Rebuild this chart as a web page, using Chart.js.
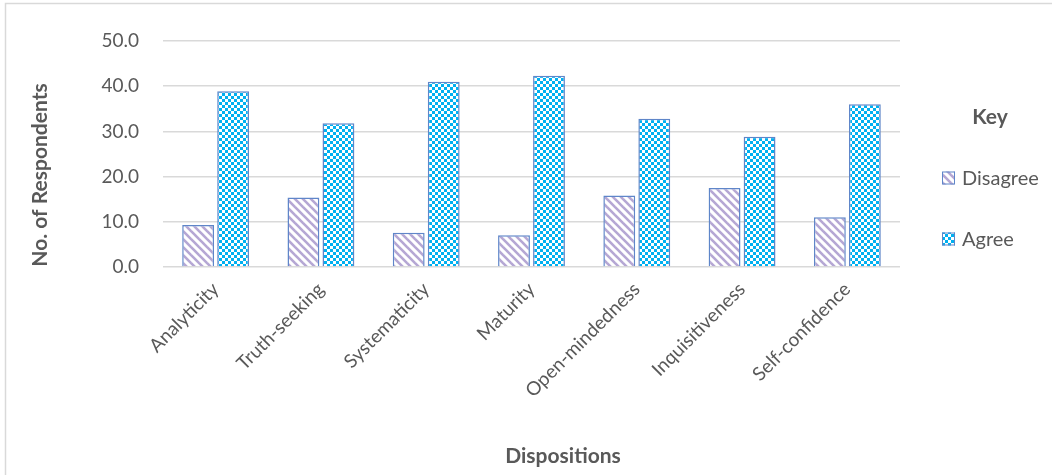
<!DOCTYPE html>
<html>
<head>
<meta charset="utf-8">
<script src="https://cdn.jsdelivr.net/npm/chart.js@4.4.1/dist/chart.umd.min.js"></script>
<style>
  html, body { margin: 0; padding: 0; background: #ffffff; }
  #wrap { position: relative; width: 1052px; height: 475px; }
</style>
</head>
<body>
<div id="wrap"><canvas id="chart"></canvas></div>
<script>
// Critical-thinking dispositions: respondents who disagree / agree
const categories = ['Analyticity', 'Truth-seeking', 'Systematicity', 'Maturity',
                    'Open-mindedness', 'Inquisitiveness', 'Self-confidence'];
const disagree = [9.3, 15.4, 7.6, 7.0, 15.8, 17.5, 11.0];
const agree    = [38.9, 31.8, 41.0, 42.3, 32.8, 28.8, 36.0];
const seriesNames = ['Disagree', 'Agree'];
const yTicks = [0, 10, 20, 30, 40, 50];

const FONT = 'Lato, "Liberation Sans", sans-serif';
const TEXT = '#595959';

// Diagonal light-purple hatching
function stripePattern() {
  const c = document.createElement('canvas');
  c.width = 8; c.height = 8;
  const g = c.getContext('2d');
  g.fillStyle = '#ffffff';
  g.fillRect(0, 0, 8, 8);
  g.strokeStyle = '#b5a7d4';
  g.lineWidth = 2.6;
  for (const off of [-8, 0, 8]) {
    g.beginPath();
    g.moveTo(off - 2, -2);
    g.lineTo(off + 10, 10);
    g.stroke();
  }
  return g.createPattern(c, 'repeat');
}

// Cyan / white checkerboard
function checkerPattern() {
  const c = document.createElement('canvas');
  c.width = 6; c.height = 6;
  const g = c.getContext('2d');
  g.fillStyle = '#00b0f0';
  g.fillRect(0, 0, 6, 6);
  g.fillStyle = '#ffffff';
  g.fillRect(0, 0, 3, 3);
  g.fillRect(3, 3, 3, 3);
  return g.createPattern(c, 'repeat');
}

const BORDER = '#5f86c9';

// White page with a light frame
const framePlugin = {
  id: 'frame',
  beforeDraw(chart) {
    const ctx = chart.ctx;
    ctx.save();
    ctx.fillStyle = '#ffffff';
    ctx.fillRect(0, 0, chart.width, chart.height);
    ctx.strokeStyle = '#d9d9d9';
    ctx.lineWidth = 1.5;
    ctx.strokeRect(5.5, 3.5, chart.width + 10, chart.height + 10);
    ctx.restore();
  }
};

// Axis titles and the "Key" legend on the right
const annotatePlugin = {
  id: 'annotate',
  afterDraw(chart) {
    const ctx = chart.ctx;
    const area = chart.chartArea;
    ctx.save();
    ctx.fillStyle = TEXT;
    ctx.textBaseline = 'middle';

    // y-axis title
    ctx.font = 'bold 21px ' + FONT;
    ctx.save();
    ctx.translate(40, 175);
    ctx.rotate(-Math.PI / 2);
    ctx.textAlign = 'center';
    ctx.fillText('No. of Respondents', 0, 0);
    ctx.restore();

    // x-axis title
    ctx.textAlign = 'center';
    ctx.fillText('Dispositions', 563, 456);

    // legend
    const lx = area.right + 42;
    ctx.fillText('Key', lx + 48, 117);
    ctx.font = '20px ' + FONT;
    ctx.textAlign = 'left';
    chart.data.datasets.forEach((ds, i) => {
      const cy = 178 + i * 61;
      ctx.fillStyle = ds.backgroundColor;
      ctx.fillRect(lx, cy - 6.5, 13, 13);
      ctx.strokeStyle = ds.borderColor;
      ctx.lineWidth = 1;
      ctx.strokeRect(lx + 0.5, cy - 6, 12, 12);
      ctx.fillStyle = TEXT;
      ctx.fillText(ds.label, lx + 20, cy + 1);
    });
    ctx.restore();
  }
};

new Chart(document.getElementById('chart'), {
  type: 'bar',
  data: {
    labels: categories,
    datasets: [
      { label: seriesNames[0], data: disagree, backgroundColor: stripePattern(),
        borderColor: BORDER, borderWidth: 1.5 },
      { label: seriesNames[1], data: agree, backgroundColor: checkerPattern(),
        borderColor: BORDER, borderWidth: 1.5 }
    ]
  },
  options: {
    responsive: true,
    maintainAspectRatio: false,
    animation: false,
    events: [],
    layout: { padding: { top: 41, right: 152, left: 0, bottom: 0 } },
    datasets: { bar: { categoryPercentage: 0.665, barPercentage: 0.91 } },
    plugins: { legend: { display: false }, tooltip: { enabled: false } },
    scales: {
      x: {
        grid: { display: false },
        border: { display: false },
        ticks: {
          color: TEXT, font: { family: FONT, size: 19 },
          minRotation: 45, maxRotation: 45, autoSkip: false, padding: 3
        },
        afterFit(scale) { scale.height = 208; }
      },
      y: {
        min: 0, max: 50,
        afterBuildTicks(scale) { scale.ticks = yTicks.map(v => ({ value: v })); },
        grid: { color: '#d9d9d9', lineWidth: 1.5, drawTicks: false },
        border: { display: false },
        ticks: {
          color: TEXT, font: { family: FONT, size: 19 }, padding: 24,
          callback: v => Number(v).toFixed(1)
        },
        afterFit(scale) { scale.width = 163; }
      }
    }
  },
  plugins: [framePlugin, annotatePlugin]
});
</script>
</body>
</html>
